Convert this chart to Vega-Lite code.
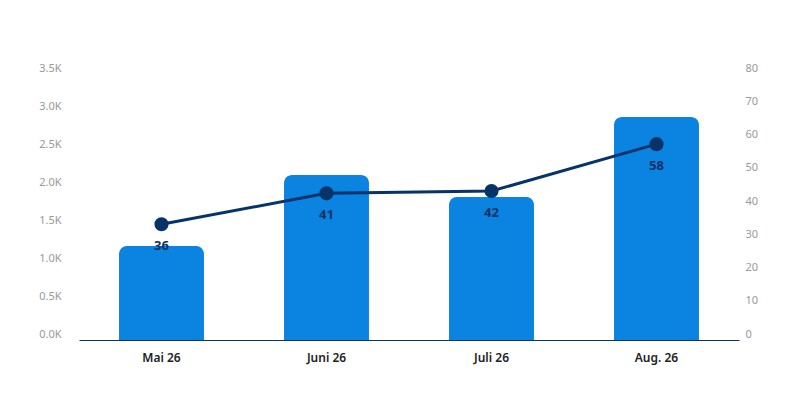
{
  "$schema": "https://vega.github.io/schema/vega-lite/v6.json",
  "autosize": {"type": "none"},
  "padding": {"left": 79, "top": 74, "right": 61, "bottom": 60},
  "width": 660,
  "height": 266,
  "background": "white",
  "config": {
    "view": {"stroke": null},
    "font": "Noto Sans"
  },
  "data": {
    "values": [
      {"month": "Mai 26", "amount": 1237, "count": 34.8, "label": "36"},
      {"month": "Juni 26", "amount": 2171, "count": 44.1, "label": "41"},
      {"month": "Juli 26", "amount": 1882, "count": 44.8, "label": "42"},
      {"month": "Aug. 26", "amount": 2934, "count": 58.9, "label": "58"}
    ]
  },
  "encoding": {
    "x": {
      "field": "month",
      "type": "nominal",
      "sort": null,
      "title": null,
      "scale": {"paddingInner": 0.485, "paddingOuter": 0.2425},
      "axis": {
        "labelAngle": 0,
        "labelFontSize": 12,
        "labelFontWeight": 600,
        "labelColor": "#222222",
        "labelPadding": 12,
        "domainColor": "#0d3466",
        "domainWidth": 1,
        "ticks": false,
        "grid": false
      }
    }
  },
  "layer": [
    {
      "mark": {"type": "bar", "color": "#0a84e0", "cornerRadiusTopLeft": 8, "cornerRadiusTopRight": 8},
      "encoding": {
        "y": {
          "field": "amount",
          "type": "quantitative",
          "title": null,
          "scale": {"domain": [0, 3500], "nice": false},
          "axis": {
            "orient": "left",
            "values": [0, 500, 1000, 1500, 2000, 2500, 3000, 3500],
            "labelExpr": "format(datum.value / 1000, '.1f') + 'K'",
            "labelColor": "#999999",
            "labelFontSize": 11,
            "labelBaseline": "alphabetic",
            "labelOffset": -3,
            "labelPadding": 18,
            "domain": false,
            "ticks": false,
            "grid": false
          }
        }
      }
    },
    {
      "encoding": {
        "y": {
          "field": "count",
          "type": "quantitative",
          "title": null,
          "scale": {"domain": [0, 80], "nice": false},
          "axis": {
            "orient": "right",
            "values": [0, 10, 20, 30, 40, 50, 60, 70, 80],
            "labelColor": "#999999",
            "labelFontSize": 11,
            "labelBaseline": "alphabetic",
            "labelOffset": -3,
            "labelPadding": 6,
            "domain": false,
            "ticks": false,
            "grid": false
          }
        }
      },
      "layer": [
        {"mark": {"type": "line", "color": "#06336a", "strokeWidth": 3}},
        {"mark": {"type": "point", "filled": true, "color": "#06336a", "size": 200, "opacity": 1}},
        {
          "mark": {"type": "text", "dy": 22, "fontSize": 13, "fontWeight": "bold", "color": "#0b3264"},
          "encoding": {"text": {"field": "label"}}
        }
      ]
    }
  ],
  "resolve": {"scale": {"y": "independent"}}
}
